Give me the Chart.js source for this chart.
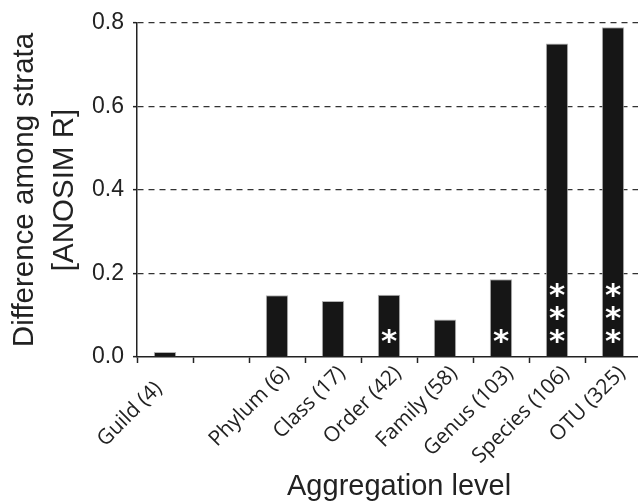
<!DOCTYPE html>
<html>
<head>
<meta charset="utf-8">
<script src="https://cdn.jsdelivr.net/npm/chart.js@4"></script>
<style>
  body { margin: 0; overflow: hidden; background: #fff; }
</style>
</head>
<body>
<canvas id="anosimChart" width="641" height="503"></canvas>
<script>
// aggregation levels (number of taxa); the blank slot is the gap after Guild
const categories = ['Guild (4)', '', 'Phylum (6)', 'Class (17)', 'Order (42)', 'Family (58)', 'Genus (103)', 'Species (106)', 'OTU (325)'];
const anosimR = [0.012, null, 0.148, 0.134, 0.149, 0.090, 0.186, 0.751, 0.790];
const starCounts = [0, 0, 0, 0, 1, 0, 1, 3, 3];
const starLevels = [0.05, 0.105, 0.16];
const yTicks = [0, 0.2, 0.4, 0.6, 0.8];

const ink = '#222';

// white significance asterisks inside the bars
const starPlugin = {
    id: 'stars',
    afterDatasetsDraw(chart) {
        const ctx = chart.ctx;
        const yScale = chart.scales.y;
        const bars = chart.getDatasetMeta(0).data;
        ctx.save();
        ctx.fillStyle = '#fff';
        ctx.font = 'bold 31px "DejaVu Sans"';
        ctx.textAlign = 'center';
        ctx.textBaseline = 'alphabetic';
        const m = ctx.measureText('*');
        const shift = (m.actualBoundingBoxAscent - m.actualBoundingBoxDescent) / 2;
        starCounts.forEach(function(n, i) {
            for (let k = 0; k < n; k++) {
                const y = yScale.getPixelForValue(starLevels[k]);
                ctx.fillText('*', bars[i].x, y + shift);
            }
        });
        ctx.restore();
    }
};

// x title sits a bit right of the plot centre in the original
const xTitlePlugin = {
    id: 'xTitle',
    afterDraw(chart) {
        const ctx = chart.ctx;
        const area = chart.chartArea;
        ctx.save();
        ctx.fillStyle = ink;
        ctx.font = '29px "Liberation Sans", Arial, sans-serif';
        ctx.textAlign = 'center';
        ctx.textBaseline = 'middle';
        ctx.fillText('Aggregation level', area.left + (area.right - area.left) * 0.52, chart.height - 16);
        ctx.restore();
    }
};

const ctx = document.getElementById('anosimChart').getContext('2d');
const anosimChart = new Chart(ctx, {
    type: 'bar',
    data: {
        labels: categories,
        datasets: [{
            data: anosimR,
            backgroundColor: '#161616',
            borderColor: '#b4b4b4',
            borderWidth: 1,
            barPercentage: 0.4,
            categoryPercentage: 1
        }]
    },
    options: {
        responsive: false,
        animation: false,
        layout: { padding: { top: 23, right: 0, bottom: 0, left: 0 } },
        plugins: {
            legend: { display: false },
            tooltip: { enabled: false }
        },
        scales: {
            x: {
                afterFit: function(scale) { scale.height = 146; },
                grid: {
                    display: true,
                    drawOnChartArea: false,
                    drawTicks: true,
                    tickLength: 6,
                    tickColor: ink,
                    tickWidth: 1.5
                },
                border: { display: true, color: ink, width: 1.5 },
                ticks: {
                    minRotation: 45,
                    maxRotation: 45,
                    autoSkip: false,
                    padding: -2,
                    labelOffset: 9,
                    color: ink,
                    font: { family: '"Open Sans", sans-serif', size: 21 },
                    // Guild label sits further down its diagonal in the original
                    callback: function(value, i) {
                        return i === 0 ? categories[i] + '    ' : categories[i];
                    }
                }
            },
            y: {
                min: 0,
                max: 0.8,
                afterFit: function(scale) { scale.width = 137; },
                afterBuildTicks: function(scale) {
                    scale.ticks = yTicks.map(function(v) { return { value: v }; });
                },
                grid: {
                    color: function(c) { return c.tick && c.tick.value === 0 ? 'rgba(0,0,0,0)' : '#333'; },
                    lineWidth: 1.3,
                    drawTicks: true,
                    tickLength: 4,
                    tickColor: ink,
                    tickWidth: 1.5
                },
                border: { display: true, color: ink, width: 1.5, dash: [6, 5] },
                ticks: {
                    padding: 9,
                    color: ink,
                    font: { family: '"Liberation Sans", Arial, sans-serif', size: 23 },
                    callback: function(value) { return Number(value).toFixed(1); }
                },
                title: {
                    display: true,
                    text: ['Difference among strata', '[ANOSIM R]'],
                    color: ink,
                    font: { family: '"Liberation Sans", Arial, sans-serif', size: 29.5, lineHeight: 1.35 },
                    padding: { top: 5, bottom: 0 }
                }
            }
        }
    },
    plugins: [starPlugin, xTitlePlugin]
});
</script>
</body>
</html>
